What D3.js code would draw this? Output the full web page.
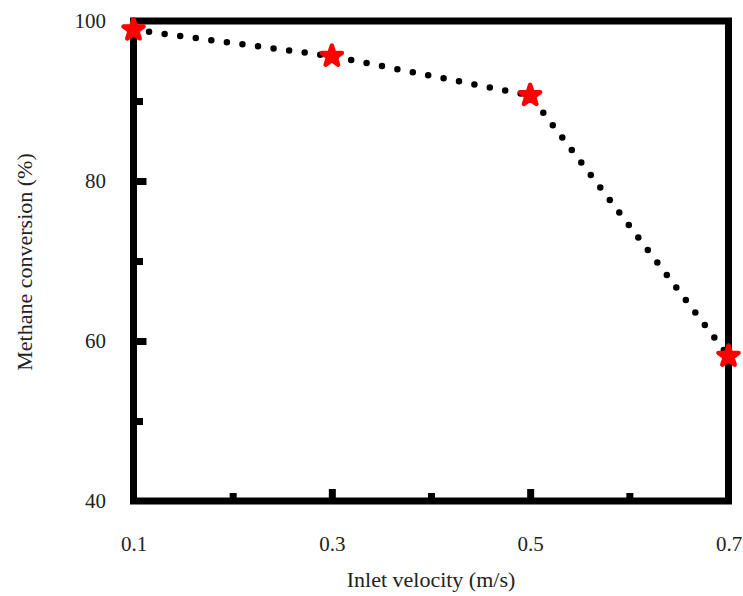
<!DOCTYPE html>
<html>
<head>
<meta charset="utf-8">
<script src="https://cdn.jsdelivr.net/npm/d3@7"></script>
<style>
  html, body { margin: 0; padding: 0; background: #fff; }
  svg { display: block; }
  text { font-family: "Liberation Serif", "Times New Roman", serif; fill: #222; }
</style>
</head>
<body>
<svg id="chart" width="743" height="596"></svg>
<script>
// Methane conversion vs. inlet velocity
const velocity = [0.1, 0.3, 0.5, 0.7];
const conversion = [98.9, 95.6, 90.7, 58.1];

const xTickLabels = [0.1, 0.3, 0.5, 0.7];
const xMajorTicks = [0.3, 0.5];
const xMinorTicks = [0.2, 0.4, 0.6];
const yTickLabels = [40, 60, 80, 100];
const yMajorTicks = [60, 80];
const yMinorTicks = [50, 70, 90];

const svg = d3.select("#chart");
const plotLeft = 133.5, plotRight = 728.5, plotTop = 21, plotBottom = 501;

const x = d3.scaleLinear().domain([0.1, 0.7]).range([plotLeft, plotRight]);
const y = d3.scaleLinear().domain([40, 100]).range([plotBottom, plotTop]);

// inward tick marks
function tickAxis(axis, vals, len, transform) {
  const g = svg.append("g").attr("transform", transform)
    .call(axis.tickValues(vals).tickSizeInner(-len).tickSizeOuter(0).tickFormat(""));
  g.select(".domain").remove();
  g.selectAll(".tick line").attr("stroke", "#000").attr("stroke-width", 7);
  return g;
}
tickAxis(d3.axisBottom(x), xMajorTicks, 12, `translate(0,${plotBottom})`);
tickAxis(d3.axisBottom(x), xMinorTicks, 8, `translate(0,${plotBottom})`);
tickAxis(d3.axisLeft(y), yMajorTicks, 13, `translate(${plotLeft},0)`);
tickAxis(d3.axisLeft(y), yMinorTicks, 9.5, `translate(${plotLeft},0)`);

// tick labels
const xl = svg.append("g").attr("transform", `translate(0,${plotBottom})`)
  .call(d3.axisBottom(x).tickValues(xTickLabels).tickSize(0).tickPadding(35).tickFormat(d3.format(".1f")));
xl.select(".domain").remove();
xl.selectAll("text").attr("font-size", 21).attr("font-family", "Liberation Serif").attr("fill", "#222");

const yl = svg.append("g").attr("transform", `translate(${plotLeft},0)`)
  .call(d3.axisLeft(y).tickValues(yTickLabels).tickSize(0).tickPadding(27.5).tickFormat(d3.format("d")));
yl.select(".domain").remove();
yl.selectAll("text").attr("font-size", 21).attr("font-family", "Liberation Serif").attr("fill", "#222");

// frame
svg.append("rect")
  .attr("x", plotLeft).attr("y", plotTop)
  .attr("width", plotRight - plotLeft).attr("height", plotBottom - plotTop)
  .attr("fill", "none").attr("stroke", "#000").attr("stroke-width", 7);

// dotted connecting line
const pts = velocity.map((v, i) => [v, conversion[i]]);
svg.append("path")
  .datum(pts)
  .attr("d", d3.line().x(d => x(d[0])).y(d => y(d[1])))
  .attr("fill", "none")
  .attr("stroke", "#000")
  .attr("stroke-width", 6.5)
  .attr("stroke-linecap", "round")
  .attr("stroke-dasharray", "0 15.7");

// star markers (rounded tips)
svg.append("g").selectAll("path")
  .data(pts)
  .join("path")
  .attr("transform", d => `translate(${x(d[0])},${y(d[1])})`)
  .attr("d", d3.symbol(d3.symbolStar, 125))
  .attr("fill", "#ff0000")
  .attr("stroke", "#ff0000")
  .attr("stroke-width", 4.5)
  .attr("stroke-linejoin", "round");

// axis titles
svg.append("text")
  .attr("x", 431).attr("y", 587)
  .attr("text-anchor", "middle")
  .attr("font-size", 22)
  .text("Inlet velocity (m/s)");

svg.append("text")
  .attr("transform", "translate(32,262) rotate(-90)")
  .attr("text-anchor", "middle")
  .attr("font-size", 22)
  .text("Methane conversion (%)");
</script>
</body>
</html>
